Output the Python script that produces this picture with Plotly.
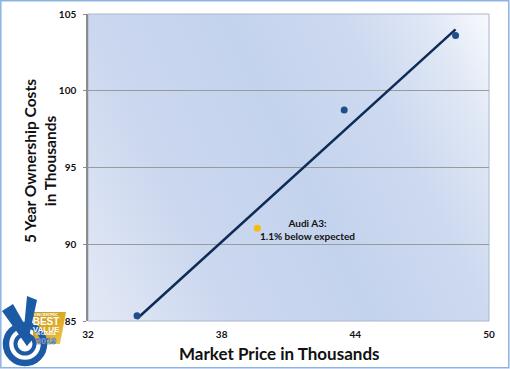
import base64
import plotly.graph_objects as go

# ---- data ----
price = [34.2, 43.5, 48.5]
cost = [85.35, 98.75, 103.6]
audi_price = [39.6]
audi_cost = [91.05]
trend_x = [34.2, 48.5]
trend_y = [85.15, 104.0]
x_ticks = [32, 38, 44, 50]
y_ticks = [85, 90, 95, 100, 105]
annot_text = "Audi A3:<br>1.1% below expected"

W, H = 510, 369
L, R, T, B = 88, 21, 14, 48
PW, PH = W - L - R, H - T - B

FONT = "Lato, 'Open Sans', sans-serif"

def svg_uri(svg):
    return "data:image/svg+xml;base64," + base64.b64encode(svg.encode()).decode()

grad_svg = f'''<svg xmlns="http://www.w3.org/2000/svg" width="{PW}" height="{PH}" viewBox="0 0 {PW} {PH}" preserveAspectRatio="none">
<defs><linearGradient id="g" gradientUnits="userSpaceOnUse" x1="-121" y1="59" x2="323" y2="-158">
<stop offset="0" stop-color="#e3e9f5"/>
<stop offset="0.27" stop-color="#cbd7ef"/>
<stop offset="0.52" stop-color="#c4d3ed"/>
<stop offset="0.73" stop-color="#cdd9f0"/>
<stop offset="0.88" stop-color="#dfe7f5"/>
<stop offset="1" stop-color="#f7f9fd"/>
</linearGradient></defs>
<rect x="0" y="0" width="{PW}" height="{PH}" fill="url(#g)"/>
</svg>'''

logo_svg = '''<svg xmlns="http://www.w3.org/2000/svg" width="72" height="81" viewBox="0 0 72 81">
<defs><linearGradient id="gold" x1="0" y1="0" x2="1" y2="1">
<stop offset="0" stop-color="#c9961a"/><stop offset="0.6" stop-color="#e0ae2c"/><stop offset="1" stop-color="#f2cc55"/>
</linearGradient></defs>
<polygon points="33,24 66,24 60,56 33,56" fill="url(#gold)"/>
<circle cx="25" cy="56" r="19" fill="none" stroke="#1c5aa6" stroke-width="6.5"/>
<circle cx="25" cy="56" r="9.5" fill="none" stroke="#1c5aa6" stroke-width="4"/>
<polygon points="2,23 13,16 33,51 27,58" fill="#1c5aa6"/>
<polygon points="27,58 23,51 27,8 37,12" fill="#1c5aa6"/>
<text x="46" y="28" font-family="Liberation Sans, sans-serif" font-size="4" font-weight="bold" fill="#ffffff" text-anchor="middle">VINCENTRIC</text>
<text x="46" y="37" font-family="Liberation Sans, sans-serif" font-size="10" font-weight="bold" fill="#ffffff" text-anchor="middle">BEST</text>
<text x="46" y="43.5" font-family="Liberation Sans, sans-serif" font-size="8" font-weight="bold" fill="#ffffff" text-anchor="middle">VALUE</text>
<text x="46" y="47" font-family="Liberation Sans, sans-serif" font-size="3.5" font-weight="bold" fill="#ffffff" text-anchor="middle">IN CANADA</text>
<text x="46" y="55.5" font-family="Liberation Sans, sans-serif" font-size="9" font-weight="bold" fill="#ffffff" stroke="#1c5aa6" stroke-width="0.6" text-anchor="middle">2019</text>
</svg>'''

def px_x(p):
    return (p - L) / PW

def px_y(p):
    return (H - B - p) / PH

fig = go.Figure()
fig.add_trace(go.Scatter(x=trend_x, y=trend_y, mode="lines",
                         line=dict(color="#0e2b55", width=2.5), hoverinfo="skip"))
fig.add_trace(go.Scatter(x=price, y=cost, mode="markers",
                         marker=dict(color="#1f4e8c", size=7)))
fig.add_trace(go.Scatter(x=audi_price, y=audi_cost, mode="markers",
                         marker=dict(color="#f6bb0f", size=7)))

fig.add_annotation(x=audi_price[0], y=audi_cost[0], xshift=50, yshift=-1, text=annot_text,
                   showarrow=False, align="center", xanchor="center", yanchor="middle",
                   font=dict(family=FONT, size=10, color="#111111", weight="bold"))

fig.add_annotation(xref="paper", yref="paper", x=px_x(279), y=px_y(353), text="Market Price in Thousands",
                   showarrow=False, xanchor="center", yanchor="middle",
                   font=dict(family=FONT, size=17, color="#111111", weight="bold"))
fig.add_annotation(xref="paper", yref="paper", x=px_x(40), y=px_y(161),
                   text="5 Year Ownership Costs<br>in Thousands", textangle=-90,
                   showarrow=False, xanchor="center", yanchor="middle",
                   font=dict(family=FONT, size=15.5, color="#111111", weight="bold"))

fig.add_layout_image(source=svg_uri(grad_svg), xref="paper", yref="paper", x=0, y=1,
                     sizex=1, sizey=1, xanchor="left", yanchor="top", sizing="stretch", layer="below")
fig.add_layout_image(source=svg_uri(logo_svg), xref="paper", yref="paper", x=px_x(0), y=px_y(288),
                     sizex=72 / PW, sizey=81 / PH, xanchor="left", yanchor="top", sizing="stretch", layer="below")

# outer frame
fig.add_shape(type="rect", xref="paper", yref="paper", x0=px_x(0.8), x1=px_x(W - 1.2), y0=px_y(H - 1.2), y1=px_y(0.8),
              line=dict(color="#8db3e2", width=1.5), fillcolor="rgba(0,0,0,0)", layer="above")
# plot-area border
fig.add_shape(type="rect", xref="paper", yref="paper", x0=0, x1=1, y0=0, y1=1,
              line=dict(color="#a9b6cc", width=1), fillcolor="rgba(0,0,0,0)", layer="below")

fig.update_layout(
    width=W, height=H,
    margin=dict(l=L, r=R, t=T, b=B),
    paper_bgcolor="#ffffff", plot_bgcolor="rgba(0,0,0,0)",
    showlegend=False,
    xaxis=dict(range=[32, 50], tickvals=x_ticks, showgrid=False, zeroline=False,
               showline=False, ticks="", tickfont=dict(family=FONT, size=10, color="#111111", weight="bold"),
               ticklabelstandoff=6, automargin=False),
    yaxis=dict(range=[85, 105], tickvals=y_ticks, showgrid=True, gridcolor="#9a9a9a", gridwidth=1,
               zeroline=False, showline=True, linecolor="#8c8c8c", linewidth=1.5, ticks="outside",
               ticklen=3, tickcolor="#8c8c8c", tickfont=dict(family=FONT, size=10, color="#111111", weight="bold"),
               ticklabelstandoff=5, automargin=False),
)

fig.write_html("out.html", config={"displayModeBar": False},
               post_script="document.body.style.margin='0';document.body.style.overflow='hidden';")
